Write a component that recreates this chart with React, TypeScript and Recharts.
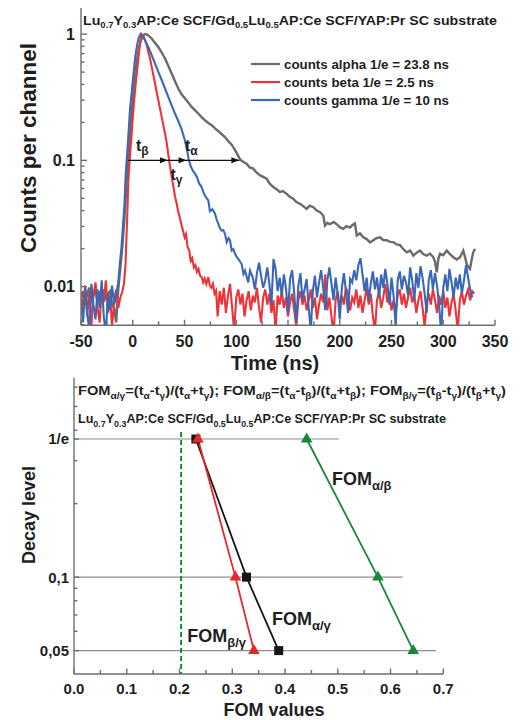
import React from "react";
import { LineChart, Line, XAxis, YAxis } from "recharts";

// ---------- top panel data: [time ns, normalized counts] ----------
const alphaCounts: [number, number][] = [
  [-50, 0.0082], [-48, 0.0092], [-46, 0.0072], [-44, 0.0088], [-42, 0.0098], [-40, 0.0078], [-38, 0.0085], [-36, 0.0095],
  [-34, 0.0075], [-32, 0.0088], [-30, 0.0082], [-28, 0.0095], [-26, 0.0078], [-24, 0.0088], [-22, 0.0092], [-20, 0.0072],
  [-18, 0.0068], [-16, 0.0052], [-14, 0.0095], [-12, 0.014], [-10, 0.021], [-8, 0.035], [-6, 0.065], [-4, 0.11],
  [-2, 0.19], [0, 0.3], [2, 0.45], [4, 0.62], [6, 0.78], [8, 0.9], [10, 0.975], [12, 1.0], [14, 0.99], [16, 0.96],
  [18.3, 0.924], [21, 0.86], [24.7, 0.79], [28, 0.715], [31.2, 0.641], [34.4, 0.56], [37.6, 0.488], [41, 0.42],
  [44, 0.371], [47, 0.335], [50.5, 0.309], [54, 0.285], [56.9, 0.265], [60, 0.25], [63.3, 0.235], [66.5, 0.22],
  [69.8, 0.208], [73, 0.198], [76.3, 0.19], [79.5, 0.179], [82.7, 0.17], [86, 0.161], [89.1, 0.153], [92.3, 0.142],
  [95.6, 0.133], [99, 0.12], [102, 0.108], [104, 0.101], [107, 0.097], [110, 0.094], [113, 0.088], [116.5, 0.086],
  [119, 0.081], [123, 0.076], [126, 0.074], [129.4, 0.0715], [132, 0.066], [135.8, 0.0614], [139, 0.059], [142.3, 0.056],
  [145, 0.0572], [148.7, 0.0543], [152, 0.0512], [155.1, 0.0497], [158, 0.0468], [161.6, 0.0453], [165, 0.0432],
  [168, 0.0413], [171, 0.0438], [174.5, 0.0426], [177.5, 0.0402], [180.9, 0.0389], [184.1, 0.0366], [185.7, 0.0305],
  [188, 0.032], [190.6, 0.0312], [194, 0.0325], [197, 0.0312], [200, 0.0296], [203.4, 0.0287], [206.5, 0.0302],
  [209.9, 0.0294], [212, 0.0306], [214.7, 0.0316], [216.4, 0.0254], [219.5, 0.0264], [222.8, 0.0246], [226, 0.0238],
  [229.2, 0.0224], [232.4, 0.0233], [235.5, 0.0242], [238.9, 0.0246], [242, 0.0234], [245.3, 0.0233], [248.5, 0.0226],
  [251.7, 0.0225], [255, 0.0216], [258.2, 0.0213], [261.5, 0.0198], [264.7, 0.0187], [268, 0.0193], [271.1, 0.0176],
  [274.3, 0.0186], [277.5, 0.0193], [280.7, 0.0181], [284, 0.0176], [287, 0.0183], [290.4, 0.0171], [292, 0.0158],
  [293.7, 0.013], [295.3, 0.0166], [296.9, 0.0182], [300, 0.0177], [303.3, 0.0193], [306.5, 0.0181], [309.7, 0.0171],
  [313, 0.0164], [316.2, 0.0171], [319.4, 0.0193], [321, 0.0172], [322.7, 0.0151], [324.3, 0.0142], [325.8, 0.0138],
  [327.5, 0.0165], [329, 0.0187], [330.7, 0.0199],
];

const betaCounts: [number, number][] = [
  [-50, 0.0088], [-48, 0.0065], [-46, 0.0102], [-44, 0.0058], [-42, 0.0092], [-40, 0.0048], [-38, 0.0085], [-36, 0.0108],
  [-34, 0.0068], [-32, 0.0052], [-30, 0.0095], [-28, 0.0075], [-26, 0.0112], [-24, 0.0062], [-22, 0.0085], [-20, 0.0048],
  [-18, 0.0078], [-16, 0.0095], [-14, 0.0068], [-12, 0.0082], [-10, 0.0092], [-8.5, 0.0105], [-7, 0.015], [-5.5, 0.033],
  [-4.3, 0.068], [-3, 0.1], [-1, 0.165], [0.5, 0.245], [2, 0.34], [3.5, 0.46], [5.4, 0.64], [7, 0.85], [8.6, 1.0],
  [10.2, 0.97], [11.8, 0.9], [13.5, 0.818], [15, 0.724], [16.7, 0.641], [18.3, 0.55], [19.9, 0.473], [21.5, 0.406],
  [23.1, 0.348], [24.7, 0.299], [26.3, 0.257], [28, 0.221], [29.5, 0.19], [31.2, 0.163], [32.8, 0.138], [34.3, 0.112],
  [36, 0.09], [37.6, 0.074], [39, 0.064], [40.8, 0.052], [42.3, 0.046], [44, 0.039], [45.7, 0.0345], [47, 0.031],
  [48.9, 0.027], [50.2, 0.0245], [51.5, 0.026], [53, 0.0205], [54.5, 0.0195], [56, 0.016], [57.5, 0.0168], [59, 0.0142],
  [60.5, 0.0148], [62, 0.0131], [63.5, 0.0138], [65, 0.0122], [66.6, 0.0119], [68, 0.0108], [69.5, 0.0116], [71, 0.0105],
  [73, 0.0119], [74.5, 0.0102], [76, 0.0098], [77.5, 0.0105], [79, 0.0088], [80.5, 0.0093], [82, 0.0058], [84, 0.0092],
  [86, 0.0072], [88, 0.0098], [90, 0.0062], [92, 0.0085], [94, 0.0105], [96, 0.0068], [98, 0.0045], [100, 0.0082],
  [102, 0.0095], [104, 0.0072], [106, 0.0088], [108, 0.0058], [110, 0.0078], [112, 0.0092], [114, 0.0065], [116, 0.0085],
  [118, 0.0075], [120, 0.0098], [122, 0.0068], [124, 0.0052], [126, 0.0082], [128, 0.0095], [130, 0.0072], [132, 0.0088],
  [134, 0.0062], [136, 0.0078], [138, 0.0045], [140, 0.0085], [142, 0.0072], [144, 0.0092], [146, 0.0068], [148, 0.0082],
  [150, 0.0058], [152, 0.0075], [154, 0.0088], [156, 0.0065], [158, 0.0048], [160, 0.0078], [162, 0.0092], [164, 0.0072],
  [166, 0.0085], [168, 0.0065], [170, 0.0078], [172, 0.0095], [174, 0.0068], [176, 0.0082], [178, 0.0055], [180, 0.0072],
  [182, 0.0088], [184, 0.0075], [186, 0.0125], [188, 0.0065], [190, 0.0082], [192, 0.0058], [194, 0.0042], [196, 0.0078],
  [198, 0.0092], [200, 0.0068], [202, 0.0085], [204, 0.0072], [206, 0.0098], [208, 0.0088], [210, 0.0065], [212, 0.0082],
  [214, 0.0075], [216, 0.0095], [218, 0.0068], [220, 0.0085], [222, 0.0062], [224, 0.0078], [226, 0.0098], [228, 0.0072],
  [230, 0.0088], [232, 0.0058], [234, 0.0045], [236, 0.0078], [238, 0.0092], [240, 0.0068], [242, 0.0082], [244, 0.0105],
  [246, 0.0075], [248, 0.0088], [250, 0.0065], [252, 0.0078], [254, 0.0062], [256, 0.0085], [258, 0.0095], [260, 0.0072],
  [262, 0.0088], [264, 0.0068], [266, 0.0082], [268, 0.0098], [270, 0.0075], [272, 0.0085], [274, 0.0062], [276, 0.0078],
  [278, 0.0092], [280, 0.0068], [282, 0.0048], [284, 0.0075], [286, 0.0088], [288, 0.0072], [290, 0.0095], [292, 0.0078],
  [294, 0.0062], [296, 0.0085], [298, 0.0072], [300, 0.0092], [302, 0.0068], [304, 0.0082], [306, 0.0058], [308, 0.0075],
  [310, 0.0088], [312, 0.0065], [314, 0.0045], [316, 0.0078], [318, 0.0092], [320, 0.0072], [322, 0.0085], [324, 0.0095],
  [326, 0.0078], [328, 0.0092], [330, 0.0088],
];

const gammaCounts: [number, number][] = [
  [-50, 0.0075], [-48, 0.0052], [-46, 0.0098], [-44, 0.0062], [-42, 0.0045], [-40, 0.0105], [-38, 0.0072], [-36, 0.0055],
  [-34, 0.0095], [-32, 0.0068], [-30, 0.0112], [-28, 0.0058], [-26, 0.0042], [-24, 0.0088], [-22, 0.0065], [-20, 0.0102],
  [-18, 0.0072], [-16, 0.0085], [-14, 0.0108], [-12.5, 0.015], [-11, 0.02], [-9.5, 0.03], [-8, 0.045], [-6.8, 0.078],
  [-5, 0.125], [-2.7, 0.25], [0, 0.42], [2.2, 0.64], [4, 0.8], [5.5, 0.92], [7.6, 1.0], [9.5, 0.965], [11.8, 0.896],
  [15, 0.79], [18.3, 0.681], [21.5, 0.585], [24.7, 0.502], [28, 0.431], [31.2, 0.371], [34.3, 0.318], [37.6, 0.273],
  [40.8, 0.235], [44, 0.205], [47.3, 0.175], [50.5, 0.143], [52.5, 0.12], [54, 0.102], [56, 0.09], [58, 0.083],
  [60, 0.079], [62, 0.0738], [64, 0.066], [66.6, 0.0614], [68.2, 0.056], [69.8, 0.0527], [71.5, 0.05], [73, 0.0482],
  [74.6, 0.0395], [77, 0.041], [79.5, 0.0378], [81, 0.034], [82.7, 0.0314], [84.3, 0.029], [85.9, 0.0278], [87.5, 0.028],
  [89.1, 0.0262], [90.8, 0.0225], [92.5, 0.0242], [94, 0.0232], [95.6, 0.0193], [97.2, 0.0198], [98.8, 0.0182],
  [100.4, 0.0172], [102, 0.0166], [103.6, 0.0158], [105.2, 0.0151], [107, 0.0126], [108.5, 0.0134], [110, 0.0121],
  [111.6, 0.0108], [113.3, 0.0134], [116, 0.0118], [118, 0.0095], [120, 0.0128], [122, 0.0155], [124, 0.0122],
  [126, 0.0098], [128, 0.0112], [130, 0.0142], [132, 0.0105], [134, 0.0072], [136, 0.0165], [138, 0.0138], [140, 0.0092],
  [142, 0.0118], [144, 0.0085], [146, 0.0125], [148, 0.0098], [150, 0.0062], [152, 0.0115], [154, 0.0135], [156, 0.0088],
  [158, 0.0052], [160, 0.0102], [162, 0.0128], [164, 0.0078], [166, 0.0095], [168, 0.0115], [170, 0.0068], [172, 0.0045],
  [174, 0.0092], [176, 0.0122], [178, 0.0082], [180, 0.0108], [182, 0.0135], [184, 0.0098], [186, 0.0065], [188, 0.0112],
  [190, 0.0142], [192, 0.0105], [194, 0.0078], [196, 0.0118], [198, 0.0088], [200, 0.0055], [202, 0.0098], [204, 0.0128],
  [206, 0.0092], [208, 0.0062], [210, 0.0115], [212, 0.0108], [214, 0.0135], [216, 0.0112], [218, 0.0148], [220, 0.0168],
  [222, 0.0125], [224, 0.0092], [226, 0.0118], [228, 0.0078], [230, 0.0105], [232, 0.0132], [234, 0.0095], [236, 0.0118],
  [238, 0.0082], [240, 0.0125], [242, 0.0098], [244, 0.0138], [246, 0.0105], [248, 0.0072], [250, 0.0118], [252, 0.0085],
  [254, 0.0048], [256, 0.0112], [258, 0.0132], [260, 0.0095], [262, 0.0122], [264, 0.0108], [266, 0.0085], [268, 0.0142],
  [270, 0.0112], [272, 0.0078], [274, 0.0128], [276, 0.0098], [278, 0.0145], [280, 0.0118], [282, 0.0088], [284, 0.0062],
  [286, 0.0112], [288, 0.0135], [290, 0.0095], [292, 0.0128], [294, 0.0102], [296, 0.0072], [298, 0.0042], [300, 0.0098],
  [302, 0.0125], [304, 0.0092], [306, 0.0138], [308, 0.0108], [310, 0.0082], [312, 0.0118], [314, 0.0095], [316, 0.0125],
  [318, 0.0088], [320, 0.0112], [322, 0.0148], [324, 0.0118], [326, 0.0095], [328, 0.0082],
];

// 1/e-level arrow: start of pulse, then beta, gamma, alpha crossings of 0.1
const arrowTimes = [-4.5, 34, 52, 103];
const arrowLevel = 0.1;

const topXTicks = [-50, -25, 0, 25, 50, 75, 100, 125, 150, 175, 200, 225, 250, 275, 300, 325, 350];
const topYTicks = [0.005, 0.006, 0.007, 0.008, 0.009, 0.01, 0.02, 0.03, 0.04, 0.05, 0.06, 0.07, 0.08, 0.09, 0.1,
  0.2, 0.3, 0.4, 0.5, 0.6, 0.7, 0.8, 0.9, 1];
const topYLabels: Record<string, string> = { "0.01": "0.01", "0.1": "0.1", "1": "1" };

// ---------- bottom panel data ----------
const decayLevels = [0.3679, 0.1, 0.05];
const fomAlphaGamma = [0.231, 0.327, 0.388];
const fomBetaGamma = [0.235, 0.306, 0.341];
const fomAlphaBeta = [0.441, 0.576, 0.643];
const levelLineEnds = [0.502, 0.623, 0.686];
const thresholdFom = 0.203;
const thresholdTop = 0.393;

const botXTicks = [0, 0.05, 0.1, 0.15, 0.2, 0.25, 0.3, 0.35, 0.4, 0.45, 0.5, 0.55, 0.6, 0.65, 0.7];
const botYTicks = [0.05, 0.06, 0.07, 0.08, 0.09, 0.1, 0.2, 0.3, 0.3679, 0.4, 0.5, 0.6];
const botYLabels: Record<string, string> = { "0.05": "0,05", "0.1": "0,1", "0.3679": "1/e" };

// ---------- styling ----------
const FONT = "'Liberation Sans', Arial, Helvetica, sans-serif";
const AX = "#6e6e6e";
const TXT = "#1e1e1e";
const C_ALPHA = "#6b6b6b";
const C_BETA = "#ee3338";
const C_GAMMA = "#3a68b6";
const C_BLACK = "#161616";
const C_RED = "#e8262b";
const C_GREEN = "#17883a";

const toPts = (arr: [number, number][]) => arr.map(([t, v]) => ({ t, v }));

const TopXTick = (p: any) => {
  const v = p.payload.value;
  const major = v % 50 === 0;
  return (
    <g>
      <line x1={p.x} x2={p.x} y1={p.y} y2={p.y - (major ? 5.5 : 4)} stroke={AX} strokeWidth={1.4} />
      {major && (
        <text x={p.x} y={p.y + 21.5} textAnchor="middle" fontFamily={FONT} fontWeight="bold" fontSize={16} fill={TXT}>
          {String(v)}
        </text>
      )}
    </g>
  );
};

const TopYTick = (p: any) => {
  const v = p.payload.value;
  const lab = topYLabels[String(v)];
  return (
    <g>
      <line x1={p.x} x2={p.x + (lab ? 6 : 3.5)} y1={p.y} y2={p.y} stroke={AX} strokeWidth={1.4} />
      {lab && (
        <text x={p.x - 6} y={p.y} dy="0.36em" textAnchor="end" fontFamily={FONT} fontWeight="bold" fontSize={16} fill={TXT}>
          {lab}
        </text>
      )}
    </g>
  );
};

const BotXTick = (p: any) => {
  const v = p.payload.value;
  const major = Math.abs(v * 10 - Math.round(v * 10)) < 1e-6;
  return (
    <g>
      <line x1={p.x} x2={p.x} y1={p.y} y2={p.y - (major ? 5.5 : 4)} stroke={AX} strokeWidth={1.4} />
      {major && (
        <text x={p.x} y={p.y + 20} textAnchor="middle" fontFamily={FONT} fontWeight="bold" fontSize={15} fill={TXT}>
          {v.toFixed(1)}
        </text>
      )}
    </g>
  );
};

const BotYTick = (p: any) => {
  const v = p.payload.value;
  const lab = botYLabels[String(v)];
  return (
    <g>
      <line x1={p.x} x2={p.x + (lab ? 5 : 3.5)} y1={p.y} y2={p.y} stroke={AX} strokeWidth={1.4} />
      {lab && (
        <text x={p.x - 5} y={p.y} dy="0.36em" textAnchor="end" fontFamily={FONT} fontWeight="bold" fontSize={15} fill={TXT}>
          {lab}
        </text>
      )}
    </g>
  );
};

const ArrowHead = (p: any) => {
  if (p.index === 0 || p.cx == null) return <g key={p.index} />;
  const { cx, cy } = p;
  return <polygon key={p.index} points={`${cx},${cy} ${cx - 8},${cy - 3} ${cx - 8},${cy + 3}`} fill="#111" />;
};

const SquareDot = (p: any) => (
  <rect key={p.index} x={p.cx - 4.5} y={p.cy - 4.5} width={9} height={9} fill={C_BLACK} />
);
const triDot = (color: string) => (p: any) => (
  <polygon key={p.index} points={`${p.cx},${p.cy - 6.5} ${p.cx - 5.8},${p.cy + 3.5} ${p.cx + 5.8},${p.cy + 3.5}`} fill={color} />
);

type Seg = [string, boolean?];
const Rich = ({ x, y, size, sub, segs, len, color = TXT }: { x: number; y: number; size: number; sub: number; segs: Seg[]; len?: number; color?: string }) => {
  let cur = 0;
  const spans = segs.map(([s, isSub], i) => {
    const target = isSub ? size * 0.28 : 0;
    const dy = target - cur;
    cur = target;
    return (
      <tspan key={i} dy={dy} fontSize={isSub ? sub : size}>
        {s}
      </tspan>
    );
  });
  return (
    <text x={x} y={y} fontFamily={FONT} fontWeight="bold" fill={color} fontSize={size}
      {...(len ? { textLength: len, lengthAdjust: "spacingAndGlyphs" } : {})}>
      {spans}
    </text>
  );
};

const titleSegs: Seg[] = [["Lu"], ["0.7", true], ["Y"], ["0.3", true], ["AP:Ce SCF/Gd"], ["0.5", true], ["Lu"], ["0.5", true], ["AP:Ce SCF/YAP:Pr SC substrate"]];
const formulaSegs: Seg[] = [
  ["FOM"], ["α/γ", true], ["=(t"], ["α", true], ["-t"], ["γ", true], [")/(t"], ["α", true], ["+t"], ["γ", true],
  ["); FOM"], ["α/β", true], ["=(t"], ["α", true], ["-t"], ["β", true], [")/(t"], ["α", true], ["+t"], ["β", true],
  ["); FOM"], ["β/γ", true], ["=(t"], ["β", true], ["-t"], ["γ", true], [")/(t"], ["β", true], ["+t"], ["γ", true], [")"],
];

const legendItems = [
  { label: "counts alpha 1/e = 23.8 ns", color: C_ALPHA, len: 165 },
  { label: "counts beta 1/e = 2.5 ns", color: C_BETA, len: 150 },
  { label: "counts gamma 1/e = 10 ns", color: C_GAMMA, len: 165 },
];

export default function App() {
  const alphaData = toPts(alphaCounts);
  const betaData = toPts(betaCounts);
  const gammaData = toPts(gammaCounts);
  const arrowData = arrowTimes.map((t) => ({ t, v: arrowLevel }));

  const mk = (vals: number[]) => vals.map((f, i) => ({ fom: f, level: decayLevels[i] }));
  const levelLines = decayLevels.map((lv, i) => [
    { fom: 0, level: lv },
    { fom: levelLineEnds[i], level: lv },
  ]);
  const threshold = [
    { fom: thresholdFom, level: thresholdTop },
    { fom: thresholdFom, level: 0.0401 },
  ];

  return (
    <div style={{ position: "absolute", left: 0, top: 0, width: 526, height: 720, background: "#fff" }}>
      <div style={{ position: "absolute", left: 0, top: 0 }}>
        <LineChart width={526} height={370} margin={{ top: 8, right: 31, bottom: 0, left: 0 }}>
          <XAxis dataKey="t" type="number" domain={[-50, 350]} ticks={topXTicks} interval={0} tickSize={0} tickMargin={0}
            tick={TopXTick} tickLine={false} height={44.7} stroke={AX} strokeWidth={1.4} allowDataOverflow />
          <YAxis type="number" scale="log" domain={[0.00494, 1.61]} ticks={topYTicks} interval={0} tickSize={0} tickMargin={0}
            tick={TopYTick} tickLine={false} width={81} stroke={AX} strokeWidth={1.4} allowDataOverflow />
          <Line data={alphaData} dataKey="v" stroke={C_ALPHA} strokeWidth={2.4} dot={false} isAnimationActive={false} />
          <Line data={betaData} dataKey="v" stroke={C_BETA} strokeWidth={2.1} dot={false} isAnimationActive={false} />
          <Line data={gammaData} dataKey="v" stroke={C_GAMMA} strokeWidth={2.1} dot={false} isAnimationActive={false} />
          <Line data={arrowData} dataKey="v" stroke="#111" strokeWidth={1.3} dot={ArrowHead} isAnimationActive={false} />
        </LineChart>
      </div>

      <div style={{ position: "absolute", left: 0, top: 370 }}>
        <LineChart width={526} height={350} margin={{ top: 7.7, right: 82.7, bottom: 0, left: 0 }}>
          <XAxis dataKey="fom" type="number" domain={[0, 0.7]} ticks={botXTicks} interval={0} tickSize={0} tickMargin={0}
            tick={BotXTick} tickLine={false} height={46} stroke={AX} strokeWidth={1.4} allowDataOverflow />
          <YAxis type="number" scale="log" domain={[0.0401, 0.656]} ticks={botYTicks} interval={0} tickSize={0} tickMargin={0}
            tick={BotYTick} tickLine={false} width={74} stroke={AX} strokeWidth={1.4} allowDataOverflow />
          {levelLines.map((d, i) => (
            <Line key={"lv" + i} data={d} dataKey="level" stroke="#8e8e8e" strokeWidth={1.1} dot={false} isAnimationActive={false} />
          ))}
          <Line data={threshold} dataKey="level" stroke={C_GREEN} strokeWidth={2} strokeDasharray="5 3" dot={false} isAnimationActive={false} />
          <Line data={mk(fomAlphaBeta)} dataKey="level" stroke={C_GREEN} strokeWidth={1.8} dot={triDot(C_GREEN)} isAnimationActive={false} />
          <Line data={mk(fomAlphaGamma)} dataKey="level" stroke={C_BLACK} strokeWidth={1.8} dot={SquareDot} isAnimationActive={false} />
          <Line data={mk(fomBetaGamma)} dataKey="level" stroke={C_RED} strokeWidth={1.8} dot={triDot(C_RED)} isAnimationActive={false} />
        </LineChart>
      </div>

      <svg width={526} height={720} style={{ position: "absolute", left: 0, top: 0, pointerEvents: "none" }}>
        {/* top panel texts */}
        <Rich x={83} y={24.5} size={13.5} sub={9} segs={titleSegs} len={414} />
        {legendItems.map((it, i) => (
          <g key={it.label}>
            <line x1={251} x2={280} y1={64 + i * 18} y2={64 + i * 18} stroke={it.color} strokeWidth={2.2} />
            <text x={284} y={68.5 + i * 18} fontFamily={FONT} fontWeight="bold" fontSize={13} fill={TXT}
              textLength={it.len} lengthAdjust="spacingAndGlyphs">
              {it.label}
            </text>
          </g>
        ))}
        <Rich x={136} y={151} size={16} sub={12} segs={[["t"], ["β", true]]} />
        <Rich x={185} y={151} size={16} sub={12} segs={[["t"], ["α", true]]} />
        <Rich x={170.5} y={180} size={16} sub={12} segs={[["t"], ["γ", true]]} />
        <text x={275} y={369.5} textAnchor="middle" fontFamily={FONT} fontWeight="bold" fontSize={20} fill={TXT}>
          Time (ns)
        </text>
        <text transform="translate(35.5,148) rotate(-90)" textAnchor="middle" fontFamily={FONT} fontWeight="bold" fontSize={22}
          fill={TXT} textLength={210} lengthAdjust="spacingAndGlyphs">
          Counts per channel
        </text>

        {/* bottom panel texts */}
        <Rich x={78} y={395} size={13} sub={9} segs={formulaSegs} len={428} />
        <Rich x={78} y={423.3} size={12} sub={8.5} segs={titleSegs} len={368} />
        <Rich x={332} y={485} size={18} sub={13} segs={[["FOM"], ["α/β", true]]} />
        <Rich x={272} y={625} size={18} sub={13} segs={[["FOM"], ["α/γ", true]]} />
        <Rich x={187.3} y={641.7} size={18} sub={13} segs={[["FOM"], ["β/γ", true]]} />
        <text x={274} y={716} textAnchor="middle" fontFamily={FONT} fontWeight="bold" fontSize={18} fill={TXT}>
          FOM values
        </text>
        <text transform="translate(35,515) rotate(-90)" textAnchor="middle" fontFamily={FONT} fontWeight="bold" fontSize={18}
          fill={TXT}>
          Decay level
        </text>
      </svg>
    </div>
  );
}
